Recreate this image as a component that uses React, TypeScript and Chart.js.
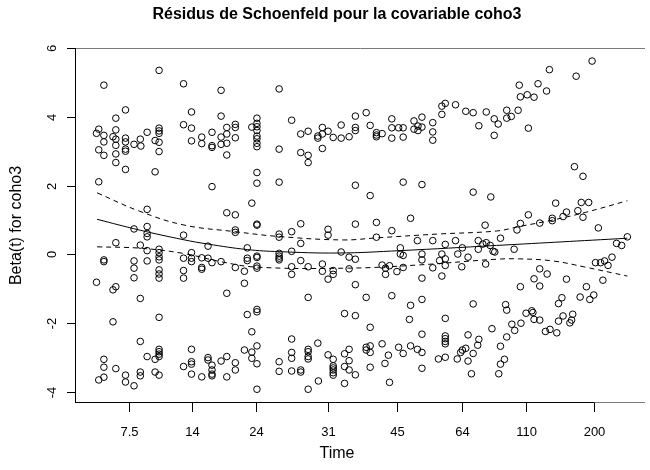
import React, { useEffect, useRef } from "react";
import { Chart, registerables } from "chart.js";
Chart.register(...registerables);

// x axis: transformed time (0-100 scale), with labelled original times
const xTickPositions = [9.4, 20.4, 31.7, 44.3, 56.4, 67.8, 79.1, 91.1];
const xTickLabels = ["7.5", "14", "24", "31", "45", "64", "110", "200"];
const yTicks = [-4, -2, 0, 2, 4, 6];

const titleText = "Résidus de Schoenfeld pour la covariable coho3";
const xTitle = "Time";
const yTitle = "Beta(t) for coho3";

// residuals: [transformed time, beta(t)]
const upperBandEarly: [number, number][] = [
  [4.9, 4.92], [14.6, 5.35], [18.9, 4.96], [8.7, 4.2], [20.3, 4.14], [7.0, 3.96], [18.9, 3.77], [20.3, 3.67],
  [4.0, 3.64], [3.6, 3.52], [7.0, 3.62], [4.9, 3.46], [6.5, 3.42], [12.5, 3.55], [14.6, 3.67], [14.6, 3.59],
  [14.6, 3.52], [8.7, 3.38], [7.0, 3.35], [11.3, 3.35], [13.9, 3.31], [4.9, 3.27], [14.6, 3.26], [20.3, 3.3],
  [8.7, 3.27], [10.2, 3.2], [7.0, 3.17], [11.4, 3.15], [4.0, 3.04], [8.7, 3.06], [8.7, 3.0], [14.6, 2.99],
  [7.0, 2.92], [4.9, 2.88], [7.0, 2.67], [8.7, 2.47], [13.9, 2.4], [4.0, 2.11],
];
const upperBandCentre: [number, number][] = [
  [25.5, 4.77], [35.7, 4.81], [25.5, 4.02], [37.9, 3.9], [31.8, 3.96], [31.8, 3.81], [31.8, 3.71], [30.9, 3.7],
  [28.0, 3.78], [28.0, 3.69], [26.5, 3.69], [23.9, 3.55], [22.1, 3.41], [25.5, 3.41], [26.5, 3.5], [31.8, 3.6],
  [31.8, 3.44], [31.8, 3.36], [28.0, 3.39], [22.1, 3.22], [23.9, 3.16], [23.9, 3.11], [25.5, 3.2], [26.5, 3.23],
  [31.8, 3.23], [31.8, 3.13], [35.7, 3.06], [26.5, 2.89], [39.5, 3.5], [40.8, 3.58], [43.3, 3.69], [44.3, 3.58],
  [43.3, 3.5], [42.5, 3.44], [42.5, 3.38], [45.2, 3.4], [46.6, 3.76], [46.6, 3.38], [48.0, 3.42], [43.3, 3.08],
  [39.5, 2.96], [40.8, 2.88], [40.8, 2.67], [31.8, 2.38], [31.8, 2.07], [35.7, 2.1], [23.9, 1.97],
];
const upperBandLate: [number, number][] = [
  [49.1, 4.02], [49.1, 3.69], [49.1, 3.6], [51.0, 4.12], [51.7, 3.75], [52.8, 3.54], [52.8, 3.47], [52.8, 3.42],
  [53.8, 3.51], [55.5, 3.94], [55.5, 3.68], [55.5, 3.38], [56.7, 3.68], [57.5, 3.68], [57.5, 3.41], [59.4, 3.88],
  [59.4, 3.64], [60.1, 3.73], [60.1, 3.6], [60.8, 3.99], [60.8, 3.7], [62.7, 3.83], [62.7, 3.56], [62.7, 3.32],
  [64.3, 4.31], [64.9, 4.39], [64.3, 4.07], [66.7, 4.35], [68.5, 4.16], [69.8, 4.12], [70.8, 3.74], [72.1, 4.14],
  [73.5, 3.94], [73.5, 3.46], [49.1, 2.01], [57.5, 2.1], [60.8, 2.03], [69.8, 1.81], [72.9, 1.67], [51.7, 1.71],
];
const upperBandRight: [number, number][] = [
  [90.7, 5.62], [83.2, 5.37], [87.9, 5.18], [77.9, 4.92], [81.2, 4.96], [82.7, 4.75], [78.1, 4.58], [79.3, 4.64],
  [80.5, 4.57], [75.7, 4.19], [77.7, 4.19], [75.7, 3.96], [76.5, 4.01], [74.2, 3.79], [79.5, 3.67], [87.6, 2.55],
  [89.1, 2.27],
];
const midBandEarly: [number, number][] = [
  [12.5, 1.31], [10.2, 0.74], [12.5, 0.81], [12.5, 0.61], [12.5, 0.51], [18.9, 0.56], [7.0, 0.34], [11.3, 0.27],
  [12.5, 0.11], [14.6, 0.15], [14.6, 0.05], [20.3, 0.05], [4.9, -0.16], [4.9, -0.21], [10.2, -0.19], [12.5, -0.19],
  [14.6, -0.07], [14.6, -0.16], [18.9, -0.11], [20.3, -0.11], [20.3, -0.21], [10.2, -0.4], [14.6, -0.45], [18.9, -0.47],
  [14.6, -0.57], [10.2, -0.68], [14.6, -0.69], [18.9, -0.69], [3.6, -0.81], [7.0, -0.94], [6.5, -1.03], [11.3, -1.28],
];
const midBandCentre: [number, number][] = [
  [30.9, 1.49], [26.5, 1.21], [28.0, 1.15], [31.8, 0.88], [31.8, 0.85], [39.5, 0.89], [28.0, 0.71], [28.0, 0.64],
  [35.7, 0.59], [35.7, 0.5], [37.9, 0.66], [44.3, 0.73], [44.3, 0.56], [39.5, 0.32], [23.2, 0.24], [30.1, 0.19],
  [22.1, -0.1], [23.2, -0.11], [23.9, -0.24], [25.5, -0.21], [30.1, -0.11], [30.1, -0.18], [31.8, -0.05], [31.8, -0.09],
  [35.7, 0.03], [35.7, -0.05], [35.7, -0.11], [35.7, -0.16], [37.9, 0.09], [39.5, -0.18], [22.1, -0.38], [22.1, -0.43],
  [28.0, -0.38], [31.8, -0.34], [31.8, -0.4], [29.6, -0.49], [37.9, -0.36], [37.9, -0.58], [40.8, -0.36], [43.3, -0.28],
  [43.3, -0.49], [45.2, -0.47], [45.2, -0.58], [44.3, -0.72], [29.6, -0.84], [26.5, -1.13], [40.8, -1.25],
];
const midBandLate: [number, number][] = [
  [49.1, 0.88], [52.8, 0.93], [58.8, 1.05], [55.5, 0.69], [71.9, 0.85], [52.8, 0.5], [60.0, 0.4], [62.7, 0.4],
  [64.9, 0.29], [66.7, 0.4], [70.7, 0.4], [71.5, 0.3], [72.1, 0.34], [72.8, 0.26], [46.6, 0.07], [48.0, -0.08],
  [49.1, -0.14], [57.0, 0.19], [57.0, 0.01], [57.5, -0.03], [60.8, 0.01], [60.8, -0.16], [64.3, 0.01], [63.9, -0.18],
  [64.9, -0.13], [64.9, -0.32], [67.1, 0.01], [67.9, 0.19], [68.9, -0.08], [70.7, 0.15], [73.3, 0.09], [73.6, 0.07],
  [72.0, -0.28], [48.0, -0.42], [53.8, -0.31], [54.4, -0.4], [55.1, -0.33], [54.4, -0.58], [56.4, -0.5], [57.5, -0.38],
  [62.7, -0.39], [67.8, -0.36], [60.8, -0.69], [64.3, -0.63], [49.1, -0.88], [51.0, -1.25], [55.5, -1.2], [60.8, -1.31],
];
const midBandRight: [number, number][] = [
  [84.3, 1.49], [88.8, 1.51], [90.1, 1.51], [79.5, 1.15], [86.2, 1.23], [88.2, 1.27], [85.6, 1.1], [89.1, 1.08],
  [83.7, 1.05], [83.7, 0.98], [81.5, 0.91], [78.1, 0.9], [77.5, 0.71], [91.8, 0.77], [74.6, 0.47], [77.0, 0.15],
  [96.9, 0.51], [95.0, 0.32], [95.9, 0.26], [94.2, -0.08], [91.3, -0.24], [92.2, -0.24], [92.9, -0.19], [93.5, -0.32],
  [81.5, -0.42], [82.8, -0.57], [80.5, -0.71], [86.2, -0.72], [92.6, -0.75], [78.1, -0.94], [81.5, -0.92], [89.7, -0.94],
];
const lowerBandEarly: [number, number][] = [
  [14.6, -1.83], [6.5, -1.96], [11.3, -2.53], [14.6, -2.76], [14.6, -2.83], [14.6, -2.9], [14.6, -2.97], [12.5, -2.97],
  [13.9, -3.05], [20.3, -2.76], [20.3, -3.12], [20.3, -3.19], [18.9, -3.26], [4.9, -3.05], [4.9, -3.28], [7.0, -3.32],
  [11.3, -3.42], [13.9, -3.42], [11.3, -3.53], [14.6, -3.51], [20.3, -3.48], [8.7, -3.51], [4.9, -3.57], [4.0, -3.65],
  [8.7, -3.71], [10.2, -3.82],
];
const lowerBandCentre: [number, number][] = [
  [30.1, -1.75], [31.8, -1.6], [31.8, -1.67], [30.9, -2.25], [37.9, -2.46], [42.5, -2.58], [29.6, -2.78], [30.9, -2.84],
  [31.8, -2.66], [37.9, -2.85], [40.8, -2.76], [40.8, -2.83], [40.8, -2.97], [40.8, -3.04], [44.3, -2.92], [23.2, -3.0],
  [23.2, -3.07], [23.9, -3.22], [23.9, -3.36], [23.9, -3.48], [23.9, -3.53], [25.5, -3.1], [26.5, -2.97], [28.0, -3.15],
  [28.0, -3.36], [26.5, -3.56], [22.1, -3.56], [30.9, -3.02], [31.8, -3.18], [31.8, -3.92], [35.7, -3.12], [35.7, -3.4],
  [37.9, -3.02], [37.9, -3.39], [39.5, -3.36], [39.5, -3.42], [45.2, -3.05], [45.2, -3.24], [45.2, -3.3], [45.2, -3.36],
  [45.2, -3.44], [45.2, -3.51], [42.6, -3.68], [40.8, -3.92],
];
const lowerBandLate: [number, number][] = [
  [47.2, -1.72], [49.1, -1.78], [58.8, -1.48], [69.8, -1.44], [51.7, -2.12], [58.6, -1.89], [64.9, -1.86], [60.8, -2.32],
  [64.9, -2.37], [64.9, -2.45], [64.9, -2.53], [64.9, -2.6], [68.9, -2.34], [70.8, -2.47], [70.6, -2.64], [53.8, -2.6],
  [51.7, -2.66], [51.0, -2.7], [51.0, -2.78], [51.7, -2.85], [48.0, -2.76], [47.2, -2.89], [56.7, -2.7], [57.5, -2.88],
  [58.8, -2.66], [60.0, -2.76], [60.8, -2.85], [54.9, -2.93], [68.5, -2.73], [67.9, -2.78], [67.6, -2.85], [69.8, -2.88],
  [63.7, -3.04], [64.9, -2.99], [67.0, -3.04], [48.0, -3.09], [54.3, -3.17], [47.2, -3.26], [48.0, -3.36], [51.7, -3.28],
  [60.8, -3.31], [68.9, -3.1], [49.1, -3.5], [69.5, -3.47], [47.2, -3.75], [55.1, -3.72], [73.1, -2.16],
];
const lowerBandRight: [number, number][] = [
  [91.0, -1.18], [85.4, -1.26], [88.6, -1.24], [90.3, -1.31], [84.8, -1.43], [75.5, -1.46], [75.7, -1.62], [79.1, -1.71],
  [80.1, -1.64], [80.3, -1.69], [80.5, -1.89], [81.5, -1.91], [85.6, -1.79], [87.3, -1.74], [87.1, -1.91], [86.8, -1.99],
  [84.8, -1.94], [76.6, -2.03], [78.2, -2.0], [77.1, -2.21], [82.5, -2.24], [83.3, -2.18], [84.5, -2.28], [75.7, -2.4],
  [74.6, -2.67], [75.3, -3.05], [74.6, -3.19], [74.3, -3.47],
];

// smoothed beta(t) and its confidence band
const fitTime = [3.7, 11.1, 18.8, 23.2, 30.1, 35.7, 46.0, 57.0, 73.9, 96.9];
const fitBeta = [1.02, 0.71, 0.43, 0.3, 0.14, 0.08, 0.04, 0.11, 0.26, 0.47];
const upperTime = [3.7, 11.1, 18.8, 28.0, 35.7, 46.9, 52.8, 63.4, 73.9, 77.9, 83.8, 89.5, 96.9];
const upperBeta = [1.79, 1.26, 0.86, 0.66, 0.52, 0.42, 0.48, 0.59, 0.68, 0.81, 1.0, 1.22, 1.56];
const lowerTime = [3.7, 11.3, 18.8, 25.4, 31.7, 47.7, 59.9, 73.9, 77.9, 83.8, 89.5, 96.9];
const lowerBeta = [0.22, 0.18, 0.03, -0.21, -0.37, -0.4, -0.31, -0.14, -0.13, -0.19, -0.37, -0.63];

const FONT = '"Liberation Sans", Arial, Helvetica, sans-serif';

export default function App() {
  const ref = useRef<HTMLCanvasElement | null>(null);

  useEffect(() => {
    document.body.style.margin = "0";
    const canvas = ref.current;
    if (!canvas) return;

    const residuals = [
      ...upperBandEarly, ...upperBandCentre, ...upperBandLate, ...upperBandRight,
      ...midBandEarly, ...midBandCentre, ...midBandLate, ...midBandRight,
      ...lowerBandEarly, ...lowerBandCentre, ...lowerBandLate, ...lowerBandRight,
    ].map(([x, y]) => ({ x, y }));

    const toPts = (xs: number[], ys: number[]) => xs.map((x, i) => ({ x, y: ys[i] }));

    const axesPlugin = {
      id: "rAxes",
      afterDraw(chart: any) {
        const ctx = chart.ctx;
        const xs = chart.scales.x;
        const ys = chart.scales.y;
        const a = chart.chartArea;
        ctx.save();
        ctx.lineWidth = 1;
        // box (right side falls outside the picture)
        ctx.strokeStyle = "#7a7a7a";
        ctx.beginPath();
        ctx.moveTo(a.left, a.top + 0.5);
        ctx.lineTo(a.right, a.top + 0.5);
        ctx.moveTo(a.left, a.bottom - 0.5);
        ctx.lineTo(a.right, a.bottom - 0.5);
        ctx.stroke();
        ctx.strokeStyle = "#000";
        // y axis
        ctx.beginPath();
        ctx.moveTo(a.left - 0.5, a.top);
        ctx.lineTo(a.left - 0.5, a.bottom);
        ctx.stroke();
        ctx.font = `13px ${FONT}`;
        ctx.fillStyle = "#000";
        ctx.textAlign = "center";
        ctx.textBaseline = "middle";
        yTicks.forEach((v) => {
          const py = Math.round(ys.getPixelForValue(v)) + 0.5;
          ctx.beginPath();
          ctx.moveTo(a.left - 9, py);
          ctx.lineTo(a.left, py);
          ctx.stroke();
          ctx.save();
          ctx.translate(a.left - 24, py);
          ctx.rotate(-Math.PI / 2);
          ctx.fillText(String(v), 0, 0);
          ctx.restore();
        });
        // x axis
        const x1 = Math.round(xs.getPixelForValue(xTickPositions[xTickPositions.length - 1])) + 0.5;
        ctx.beginPath();
        ctx.moveTo(a.left, a.bottom - 0.5);
        ctx.lineTo(x1, a.bottom - 0.5);
        ctx.stroke();
        xTickPositions.forEach((v, i) => {
          const px = Math.round(xs.getPixelForValue(v)) + 0.5;
          ctx.beginPath();
          ctx.moveTo(px, a.bottom);
          ctx.lineTo(px, a.bottom + 9);
          ctx.stroke();
          ctx.fillText(xTickLabels[i], px, a.bottom + 29);
        });
        // titles
        ctx.font = `16px ${FONT}`;
        ctx.fillText(xTitle, 337, 454);
        ctx.save();
        ctx.translate(17, (a.top + a.bottom) / 2);
        ctx.rotate(-Math.PI / 2);
        ctx.fillText(yTitle, 0, 0);
        ctx.restore();
        ctx.font = `bold 16px ${FONT}`;
        ctx.fillText(titleText, 337, 15);
        ctx.restore();
      },
    };

    const chart = new Chart(canvas, {
      type: "scatter",
      data: {
        datasets: [
          {
            label: "residuals",
            data: residuals,
            pointStyle: "circle",
            pointRadius: 3.3,
            pointBorderWidth: 1,
            borderColor: "#000",
            backgroundColor: "rgba(0,0,0,0)",
            showLine: false,
          },
          {
            label: "fit",
            type: "line",
            data: toPts(fitTime, fitBeta),
            borderColor: "#000",
            borderWidth: 1,
            pointRadius: 0,
            tension: 0.4,
            fill: false,
          },
          {
            label: "upper",
            type: "line",
            data: toPts(upperTime, upperBeta),
            borderColor: "#000",
            borderWidth: 1,
            borderDash: [5, 4],
            pointRadius: 0,
            tension: 0.4,
            fill: false,
          },
          {
            label: "lower",
            type: "line",
            data: toPts(lowerTime, lowerBeta),
            borderColor: "#000",
            borderWidth: 1,
            borderDash: [5, 4],
            pointRadius: 0,
            tension: 0.4,
            fill: false,
          },
        ],
      } as any,
      options: {
        animation: false,
        responsive: false,
        devicePixelRatio: 1,
        layout: { padding: { left: 76, top: 48, right: 0, bottom: 67 } },
        plugins: { legend: { display: false }, tooltip: { enabled: false }, title: { display: false } },
        scales: {
          x: { type: "linear", min: 0, max: 100, display: false },
          y: { type: "linear", min: -4.32, max: 6.0, display: false },
        },
      },
      plugins: [axesPlugin],
    });
    return () => chart.destroy();
  }, []);

  return (
    <div style={{ width: 650, height: 470, background: "#fff" }}>
      <canvas ref={ref} width={650} height={470} style={{ display: "block" }} />
    </div>
  );
}
